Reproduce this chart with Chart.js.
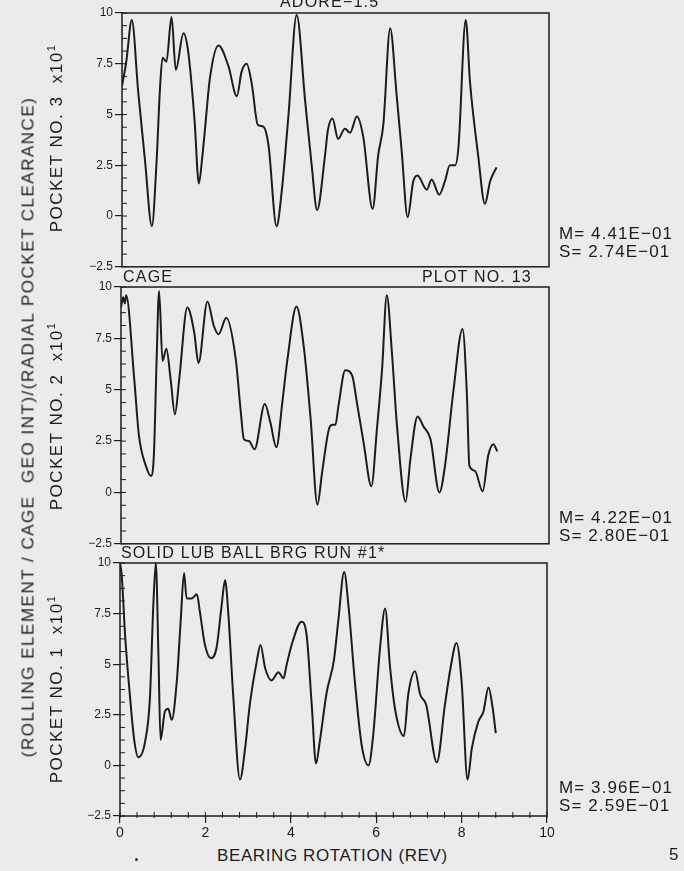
<!DOCTYPE html>
<html>
<head>
<meta charset="utf-8">
<script src="https://cdn.jsdelivr.net/npm/chart.js@4.4.1/dist/chart.umd.min.js"></script>
<style>
body { margin:0; width:684px; height:871px; background:#ebebeb; position:relative; overflow:hidden;
       font-family:"Liberation Sans", Arial, sans-serif; color:#1c1c1c; }
canvas { position:absolute; left:0; }
.txt { position:absolute; white-space:nowrap; line-height:1; font-size:16px; letter-spacing:1.2px; }
.stat { position:absolute; white-space:nowrap; line-height:1; font-size:17px; letter-spacing:1.1px; }
.vert { position:absolute; white-space:nowrap; line-height:1; font-size:17px; letter-spacing:1.5px;
        transform:translate(-50%,-50%) rotate(-90deg); }
.vert sup { font-size:11px; vertical-align:7px; line-height:0; }
</style>
</head>
<body>
<canvas id="c3" width="684" height="276" style="top:0px"></canvas>
<canvas id="c2" width="684" height="276" style="top:277px"></canvas>
<canvas id="c1" width="684" height="293" style="top:553px"></canvas>

<div class="txt" style="left:280px; top:-6px">ADORE−1.5</div>
<div class="txt" style="left:123px; top:269px">CAGE</div>
<div class="txt" style="left:422px; top:269px">PLOT NO. 13</div>
<div class="txt" style="left:121px; top:545px">SOLID LUB BALL BRG RUN #1*</div>

<div class="vert" style="left:28px; top:427px">(ROLLING ELEMENT / CAGE&nbsp; GEO INT)/(RADIAL POCKET CLEARANCE)</div>
<div class="vert" style="left:56px; top:138px">POCKET NO. 3&nbsp; x10<sup>1</sup></div>
<div class="vert" style="left:56px; top:416px">POCKET NO. 2&nbsp; x10<sup>1</sup></div>
<div class="vert" style="left:56px; top:689px">POCKET NO. 1&nbsp; x10<sup>1</sup></div>

<div id="stats"></div>

<div class="stat" style="left:217px; top:847px; letter-spacing:0.6px">BEARING ROTATION (REV)</div>
<div class="stat" style="left:669px; top:846px">5</div>
<div style="position:absolute; left:135px; top:858px; width:3px; height:3px; border-radius:2px; background:#333"></div>

<script>
// pocket 3 (top panel)
const rev3 = [0, 0.10, 0.23, 0.38, 0.54, 0.70, 0.81, 0.89, 0.95, 1.04, 1.16, 1.26, 1.44, 1.55, 1.70, 1.80, 1.88, 1.94,
  2.06, 2.26, 2.49, 2.69, 2.80, 2.92, 3.04, 3.18, 3.31, 3.43, 3.62, 3.74, 3.90, 4.09, 4.29, 4.44, 4.57, 4.75, 4.82,
  4.93, 5.06, 5.22, 5.34, 5.50, 5.65, 5.87, 6.00, 6.12, 6.28, 6.43, 6.55, 6.69, 6.82, 6.92, 7.14, 7.25, 7.43, 7.56,
  7.68, 7.80, 7.88, 8.05, 8.15, 8.34, 8.50, 8.62, 8.77];
const pocket3 = [6.4, 7.6, 9.66, 6.1, 2.7, -0.5, 2.7, 6.3, 7.8, 7.6, 9.8, 7.2, 9.0, 8.1, 4.7, 1.6, 2.9, 4.2,
  6.8, 8.4, 7.4, 5.9, 7.1, 7.5, 6.5, 4.5, 4.4, 3.5, -0.5, 1.2, 5.0, 9.9, 5.65, 2.55, 0.3, 2.9, 4.2,
  4.8, 3.8, 4.3, 4.1, 4.9, 3.9, 0.35, 3.0, 4.5, 9.25, 6.0, 3.2, -0.06, 1.7, 2.0, 1.3, 1.8, 1.05, 1.7,
  2.5, 2.5, 3.4, 9.66, 6.6, 3.0, 0.6, 1.7, 2.4];

// pocket 2 (middle panel)
const rev2 = [0, 0.05, 0.09, 0.12, 0.31, 0.42, 0.58, 0.70, 0.77, 0.83, 0.89, 0.97, 1.06, 1.16, 1.26, 1.36, 1.55, 1.71,
  1.81, 2.02, 2.17, 2.28, 2.46, 2.68, 2.80, 2.87, 2.99, 3.12, 3.36, 3.49, 3.63, 3.77, 3.89, 4.10, 4.27, 4.43, 4.59,
  4.70, 4.86, 4.94, 5.01, 5.08, 5.24, 5.40, 5.51, 5.67, 5.85, 5.98, 6.10, 6.21, 6.33, 6.45, 6.65, 6.76, 6.93, 7.07,
  7.23, 7.44, 7.57, 7.77, 7.98, 8.08, 8.14, 8.27, 8.45, 8.58, 8.70, 8.79];
const pocket2 = [9.0, 9.5, 9.2, 9.6, 5.5, 2.75, 1.3, 0.8, 1.9, 6.3, 9.8, 6.4, 7.0, 5.5, 3.8, 5.5, 9.0, 7.8,
  6.3, 9.3, 8.1, 7.7, 8.5, 6.5, 3.9, 2.6, 2.5, 2.1, 4.3, 3.4, 2.2, 4.4, 6.5, 9.05, 7.1, 3.6, -0.6,
  1.0, 3.1, 3.3, 3.3, 4.2, 5.95, 5.7, 4.4, 2.4, 0.3, 3.1, 6.0, 9.6, 6.8, 3.2, -0.45, 1.6, 3.7, 3.2,
  2.6, 0.0, 1.3, 5.0, 7.95, 4.85, 1.3, 1.05, 0.05, 1.8, 2.35, 2.0];

// pocket 1 (bottom panel)
const rev1 = [0, 0.04, 0.12, 0.23, 0.33, 0.43, 0.59, 0.70, 0.78, 0.84, 0.90, 0.95, 1.05, 1.13, 1.21, 1.33, 1.42, 1.50,
  1.56, 1.68, 1.80, 1.87, 1.99, 2.13, 2.26, 2.38, 2.46, 2.54, 2.65, 2.81, 2.93, 3.04, 3.20, 3.29, 3.40, 3.55, 3.71,
  3.83, 3.90, 4.04, 4.25, 4.37, 4.49, 4.59, 4.68, 4.84, 5.01, 5.11, 5.25, 5.35, 5.50, 5.66, 5.82, 5.93, 6.09, 6.21,
  6.32, 6.44, 6.65, 6.75, 6.91, 7.03, 7.17, 7.42, 7.61, 7.74, 7.88, 8.00, 8.14, 8.24, 8.39, 8.51, 8.63, 8.73, 8.80];
const pocket1 = [10, 9.4, 6.4, 3.5, 1.3, 0.4, 1.2, 3.3, 7.9, 10, 5.45, 1.25, 2.65, 2.8, 2.25, 4.15, 7.1, 9.5,
  8.25, 8.25, 8.45, 7.6, 5.95, 5.3, 5.8, 7.9, 9.15, 7.4, 3.5, -0.7, 0.85, 3.0, 5.1, 5.95, 4.8, 4.2, 4.6,
  4.3, 4.95, 6.1, 7.1, 6.45, 3.0, 0.1, 1.2, 3.6, 5.2, 7.1, 9.55, 7.9, 4.15, 1.0, 0.0, 1.5, 5.8, 7.75,
  4.95, 2.8, 1.45, 3.5, 4.65, 3.5, 3.0, 0.15, 3.0, 4.8, 6.05, 4.15, -0.7, 0.85, 2.15, 2.65, 3.85, 2.8, 1.6];

const yTickLabels = ['−2.5', '0', '2.5', '5', '7.5', '10'];
const xTickLabels = ['0', '2', '4', '6', '8', '10'];
const statM = ['M= 4.41E−01', 'M= 4.22E−01', 'M= 3.96E−01'];
const statS = ['S= 2.74E−01', 'S= 2.80E−01', 'S= 2.59E−01'];

const ink = '#1c1c1c';

// M / S boxes next to each panel
const statTops = [225, 509, 779];
let html = '';
statTops.forEach((t, i) => {
    html += '<div class="stat" style="left:559px; top:' + t + 'px">' + statM[i] + '</div>';
    html += '<div class="stat" style="left:559px; top:' + (t + 18) + 'px">' + statS[i] + '</div>';
});
document.getElementById('stats').innerHTML = html;

// box round the plot + minor ticks
const frame = {
    id: 'frame',
    afterDraw(chart) {
        const ctx = chart.ctx, a = chart.chartArea;
        const y = chart.scales.y, x = chart.scales.x;
        ctx.save();
        ctx.strokeStyle = ink;
        ctx.lineWidth = 1.5;
        ctx.strokeRect(a.left, a.top, a.right - a.left, a.bottom - a.top);
        ctx.lineWidth = 1;
        for (let v = -2.5; v <= 10.001; v += 0.625) {
            const py = y.getPixelForValue(v);
            ctx.beginPath(); ctx.moveTo(a.left, py); ctx.lineTo(a.left + 5, py); ctx.stroke();
        }
        if (chart.options.scales.x.display) {
            for (let v = 0; v <= 10.001; v += 0.4) {
                const px = x.getPixelForValue(v);
                ctx.beginPath(); ctx.moveTo(px, a.bottom + 2); ctx.lineTo(px, a.bottom - 4); ctx.stroke();
            }
        }
        ctx.restore();
    }
};

function panel(id, xs, ys, left, right, padTop, padBottom, showX) {
    new Chart(document.getElementById(id), {
        type: 'line',
        data: {
            datasets: [{
                data: xs.map((v, i) => ({ x: v, y: ys[i] })),
                borderColor: ink,
                borderWidth: 2,
                pointRadius: 0,
                cubicInterpolationMode: 'monotone',
                fill: false
            }]
        },
        options: {
            responsive: false,
            animation: false,
            layout: { padding: { left: 0, right: 684 - right, top: padTop, bottom: padBottom } },
            plugins: { legend: { display: false }, tooltip: { enabled: false } },
            scales: {
                x: {
                    type: 'linear', min: 0, max: 10,
                    display: showX,
                    afterFit: s => { s.height = showX ? 30 : 0 },
                    ticks: { stepSize: 2, padding: 2, color: ink, font: { family: 'Liberation Sans', size: 14 },
                             callback: (v, i) => xTickLabels[i] },
                    grid: { drawOnChartArea: false, tickLength: 7, color: ink, lineWidth: 1.2 },
                    border: { display: false }
                },
                y: {
                    min: -2.5, max: 10,
                    afterFit: s => { s.width = left },
                    ticks: { stepSize: 2.5, padding: 2, color: ink, font: { family: 'Liberation Sans', size: 12 },
                             callback: (v, i) => yTickLabels[i] },
                    grid: { drawOnChartArea: false, tickLength: 7, color: ink, lineWidth: 1.2 },
                    border: { display: false }
                }
            }
        },
        plugins: [frame]
    });
}

panel('c3', rev3, pocket3, 122, 549, 13, 8, false);
panel('c2', rev2, pocket2, 121, 549, 10, 8, false);
panel('c1', rev1, pocket1, 120, 547, 10, 0, true);
</script>
</body>
</html>
